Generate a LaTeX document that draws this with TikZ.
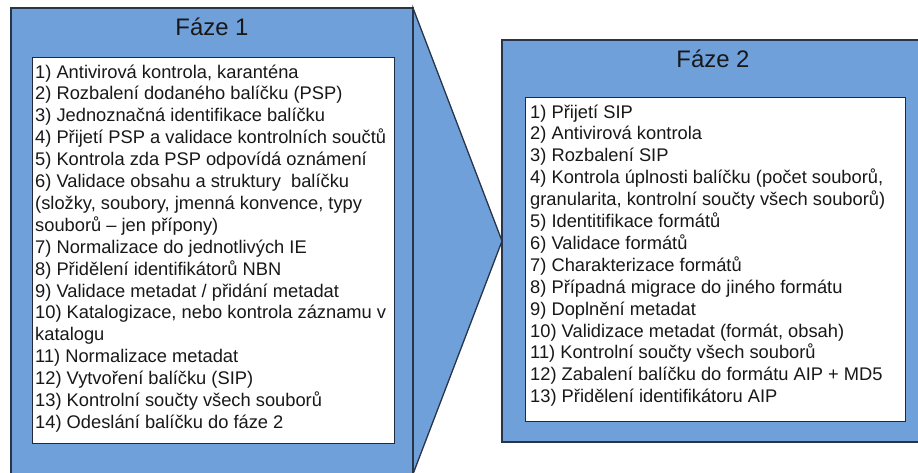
\documentclass[tikz,border=0pt]{standalone}
\usepackage{fontspec}
\setmainfont{Liberation Sans}
\definecolor{phaseblue}{RGB}{112,160,218}
\definecolor{edgedark}{RGB}{40,52,72}
\definecolor{inkdark}{RGB}{24,24,24}
\tikzset{
  phasebox/.style={fill=phaseblue, draw=edgedark, line width=1.3pt, line join=miter},
  listbox/.style={fill=white, draw=edgedark!80!black, line width=0.9pt},
  phasetitle/.style={anchor=base, inner sep=0pt, text=inkdark,
    font=\fontsize{23.9}{28}\selectfont},
  steplist/.style={anchor=base west, inner sep=0pt, text=inkdark,
    font=\fontsize{18.3}{21.9}\selectfont}
}
\begin{document}
\begin{tikzpicture}[x=1pt, y=-1pt]
\useasboundingbox (0,0) rectangle (918,472);

% phase 1 block with its pointing wedge
\draw[phasebox] (413,8) -- (502,241) -- (413,474) -- cycle;
\draw[phasebox] (11,8) rectangle (413,474);
\draw[listbox] (32,57) rectangle (394,443);
\node[phasetitle] (t1) at (212,35) {Fáze 1};
\node[steplist] (l1) at (35,78) {\vtop{%
  \hbox{1) Antivirová kontrola, karanténa}
  \hbox{2) Rozbalení dodaného balíčku (PSP)}
  \hbox{3) Jednoznačná identifikace balíčku}
  \hbox{4) Přijetí PSP a validace kontrolních součtů}
  \hbox{5) Kontrola zda PSP odpovídá oznámení}
  \hbox{6) Validace obsahu a struktury~ balíčku}
  \hbox{(složky, soubory, jmenná konvence, typy}
  \hbox{souborů – jen přípony)}
  \hbox{7) Normalizace do jednotlivých IE}
  \hbox{8) Přidělení identifikátorů NBN}
  \hbox{9) Validace metadat / přidání metadat}
  \hbox{10) Katalogizace, nebo kontrola záznamu v}
  \hbox{katalogu}
  \hbox{11) Normalizace metadat}
  \hbox{12) Vytvoření balíčku (SIP)}
  \hbox{13) Kontrolní součty všech souborů}
  \hbox{14) Odeslání balíčku do fáze 2}}};

% phase 2 block
\draw[phasebox] (502,40) rectangle (924,442);
\draw[listbox] (525,97) rectangle (905,421);
\node[phasetitle] (t2) at (713,67) {Fáze 2};
\node[steplist] (l2) at (530,118) {\vtop{%
  \hbox{1) Přijetí SIP}
  \hbox{2) Antivirová kontrola}
  \hbox{3) Rozbalení SIP}
  \hbox{4) Kontrola úplnosti balíčku (počet souborů,}
  \hbox{granularita, kontrolní součty všech souborů)}
  \hbox{5) Identitifikace formátů}
  \hbox{6) Validace formátů}
  \hbox{7) Charakterizace formátů}
  \hbox{8) Případná migrace do jiného formátu}
  \hbox{9) Doplnění metadat}
  \hbox{10) Validizace metadat (formát, obsah)}
  \hbox{11) Kontrolní součty všech souborů}
  \hbox{12) Zabalení balíčku do formátu AIP + MD5}
  \hbox{13) Přidělení identifikátoru AIP}}};
\end{tikzpicture}
\end{document}
